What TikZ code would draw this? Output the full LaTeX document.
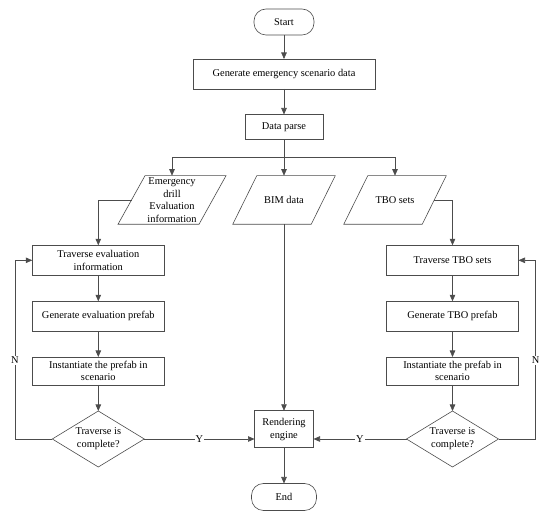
\documentclass[tikz,border=0pt]{standalone}
\usepackage{fontspec}
\setmainfont{Liberation Serif}
\usetikzlibrary{shapes.geometric,arrows.meta,calc}
\begin{document}
\begin{tikzpicture}[x=1pt,y=-1pt,
  font=\fontsize{10.4}{12.7}\selectfont,
  every node/.style={align=center, outer sep=0pt},
  ln/.style={draw=black!70, line width=0.6pt},
  arr/.style={ln, -{Triangle[length=6.5pt,width=5.5pt]}},
  boxr/.style={ln, rectangle, minimum width=#1, inner sep=0pt},
  term/.style={ln, rectangle, rounded corners=12pt, minimum width=#1, minimum height=26, inner sep=0pt},
  pg/.style={minimum width=#1, minimum height=48.6, inner sep=0pt},
  dec/.style={ln, diamond, minimum width=92, minimum height=56, inner sep=0pt, aspect=1.64},
  lab/.style={fill=white, inner sep=1pt}]
\useasboundingbox (0,0) rectangle (550,518);
% main column
\node[term=60] (start) at (284,22) {Start};
\node[boxr=182, minimum height=30] (gen) at (284,74) {Generate emergency scenario data};
\node[boxr=78, minimum height=25] (parse) at (284,127) {Data parse};
\coordinate (br) at (284,157);
% data nodes
\node[pg=81] (em) at (172,200) {Emergency\\drill\\Evaluation\\information};
\draw[ln] ($(em.north west)+(13.5,0)$) -- ($(em.north east)+(13.5,0)$) -- ($(em.south east)+(-13.5,0)$) -- ($(em.south west)+(-13.5,0)$) -- cycle;
\node[pg=78.5] (bim) at (284,200) {BIM data};
\draw[ln] ($(bim.north west)+(12,0)$) -- ($(bim.north east)+(12,0)$) -- ($(bim.south east)+(-12,0)$) -- ($(bim.south west)+(-12,0)$) -- cycle;
\node[pg=78.5] (tbo) at (395,200) {TBO sets};
\draw[ln] ($(tbo.north west)+(12,0)$) -- ($(tbo.north east)+(12,0)$) -- ($(tbo.south east)+(-12,0)$) -- ($(tbo.south west)+(-12,0)$) -- cycle;
% left column
\node[boxr=132, minimum height=30] (trav1) at (98.3,260.3) {Traverse evaluation\\information};
\node[boxr=132, minimum height=30] (gen1) at (98.3,316.3) {Generate evaluation prefab};
\node[boxr=132, minimum height=28] (inst1) at (98.3,371) {Instantiate the prefab in\\scenario};
\node[dec] (dia1) at (98.3,439) {Traverse is\\complete?};
% right column
\node[boxr=132, minimum height=30] (trav2) at (452.5,260.3) {Traverse TBO sets};
\node[boxr=132, minimum height=30] (gen2) at (452.5,316.3) {Generate TBO prefab};
\node[boxr=132, minimum height=28] (inst2) at (452.5,371) {Instantiate the prefab in\\scenario};
\node[dec] (dia2) at (452.5,439) {Traverse is\\complete?};
% bottom
\node[boxr=59, minimum height=37] (rend) at (284,429.3) {Rendering\\engine};
\node[term=65, minimum height=27] (end) at (284,497) {End};
\coordinate (lx) at (15,439);
\coordinate (rx) at (535.7,439);
% connectors
\draw[arr] (start) -- (gen);
\draw[arr] (gen) -- (parse);
\draw[ln] (parse) -- (br);
\draw[arr] (br) -- (bim.north);
\draw[arr] (br) -| (em.north);
\draw[arr] (br) -| (tbo.north);
\draw[arr] (em.west) -| (trav1.north);
\draw[arr] (tbo.east) -| (trav2.north);
\draw[arr] (trav1) -- (gen1);
\draw[arr] (gen1) -- (inst1);
\draw[arr] (inst1) -- (dia1);
\draw[arr] (trav2) -- (gen2);
\draw[arr] (gen2) -- (inst2);
\draw[arr] (inst2) -- (dia2);
\draw[arr] (bim.south) -- (rend.north);
\draw[arr] (rend) -- (end);
\draw[arr] (dia1.east) -- node[lab]{Y} (dia1.east -| rend.west);
\draw[arr] (dia2.west) -- node[lab]{Y} (dia2.west -| rend.east);
\draw[arr] (dia1.west) -- (lx) |- node[lab, pos=0.22]{N} (trav1.west);
\draw[arr] (dia2.east) -- (rx) |- node[lab, pos=0.22]{N} (trav2.east);
\end{tikzpicture}
\end{document}
